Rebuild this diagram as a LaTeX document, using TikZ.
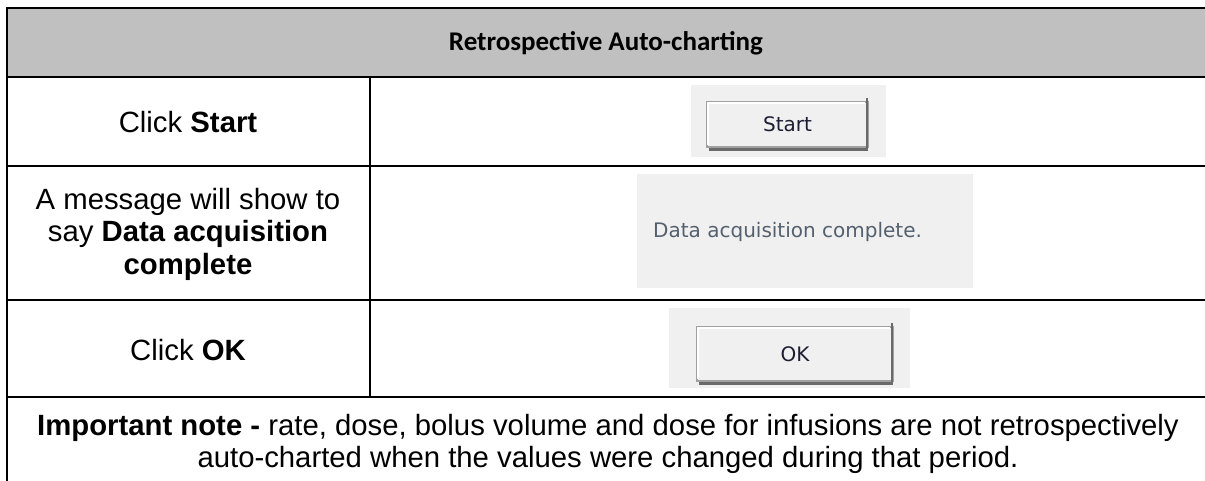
\documentclass[tikz,border=0pt]{standalone}
\usepackage{fontspec}
\setmainfont{Liberation Sans}
\newfontfamily\titlefont{Carlito}
\newfontfamily\uifont{DejaVu Sans}
\definecolor{headgray}{HTML}{C0C0C0}
\definecolor{panelgray}{HTML}{F0F0F0}
\definecolor{btnedge}{HTML}{A0A0A0}
\definecolor{btnshadow}{HTML}{6A6A6A}
\definecolor{uitext}{HTML}{1E1E32}
\definecolor{msgtext}{HTML}{55606E}
\begin{document}
\begin{tikzpicture}[x=1pt,y=-1pt,
  rule/.style={line width=2.6pt,line cap=rect},
  celltext/.style={font=\fontsize{29.3}{32.5}\selectfont,align=center,text=black,inner sep=0pt},
  panel/.style={fill=panelgray},
  button/.style={fill=panelgray,draw=btnedge,line width=1.2pt},
  btnlabel/.style={font=\uifont\fontsize{20}{24}\selectfont,text=uitext,inner sep=0pt}]
\useasboundingbox (0,0) rectangle (1205,480);
% header
\fill[headgray] (7,8) rectangle (1210,77);
\node[font=\titlefont\bfseries\fontsize{27}{32}\selectfont,inner sep=0pt] (title) at (606,43) {Retrospective Auto-charting};
% panels
\fill[panel] (691,85) rectangle (886,157);
\node[button,minimum width=161pt,minimum height=45pt] (startbtn) at (787.5,124.5) {};
\draw[btnshadow,line width=2.6pt] ([xshift=-1.8pt,yshift=3pt]startbtn.north east) -- ([xshift=-1.8pt,yshift=-1.8pt]startbtn.south east) -- ([xshift=3pt,yshift=-1.8pt]startbtn.south west);
\draw[white,line width=1.2pt] ([xshift=1.5pt,yshift=2.5pt]startbtn.south west) -- ([xshift=1.5pt,yshift=-1.5pt]startbtn.north west) -- ([xshift=-3.5pt,yshift=-1.5pt]startbtn.north east);
\node[btnlabel] (startlbl) at (startbtn.center) {Start};

\fill[panel] (637,174) rectangle (973,288);
\node[font=\uifont\fontsize{20}{24}\selectfont,text=msgtext,inner sep=0pt,anchor=west] (msg) at (653,232) {Data acquisition complete.};

\fill[panel] (669,308) rectangle (910,388);
\node[button,minimum width=196pt,minimum height=54pt] (okbtn) at (795,354) {};
\draw[btnshadow,line width=2.6pt] ([xshift=-1.8pt,yshift=3pt]okbtn.north east) -- ([xshift=-1.8pt,yshift=-1.8pt]okbtn.south east) -- ([xshift=3pt,yshift=-1.8pt]okbtn.south west);
\draw[white,line width=1.2pt] ([xshift=1.5pt,yshift=2.5pt]okbtn.south west) -- ([xshift=1.5pt,yshift=-1.5pt]okbtn.north west) -- ([xshift=-3.5pt,yshift=-1.5pt]okbtn.north east);
\node[btnlabel] (oklbl) at (okbtn.center) {OK};

% left column text
\node[celltext] (c1) at (188,122) {Click \textbf{Start}};
\node[celltext] (c2) at (188,234) {A message will show to\\say \textbf{Data acquisition}\\\textbf{complete}};
\node[celltext] (c3) at (188,350) {Click \textbf{OK}};
\node[celltext] (note) at (608,444) {\textbf{Important note -} rate, dose, bolus volume and dose for infusions are not retrospectively\\auto-charted when the values were changed during that period.};

% rules
\draw[rule] (7,8) -- (1212,8);
\draw[rule] (7,77) -- (1212,77);
\draw[rule] (7,166) -- (1212,166);
\draw[rule] (7,300) -- (1212,300);
\draw[rule] (7,397) -- (1212,397);
\draw[rule] (7,8) -- (7,490);
\draw[rule] (370,77) -- (370,397);
\end{tikzpicture}
\end{document}
